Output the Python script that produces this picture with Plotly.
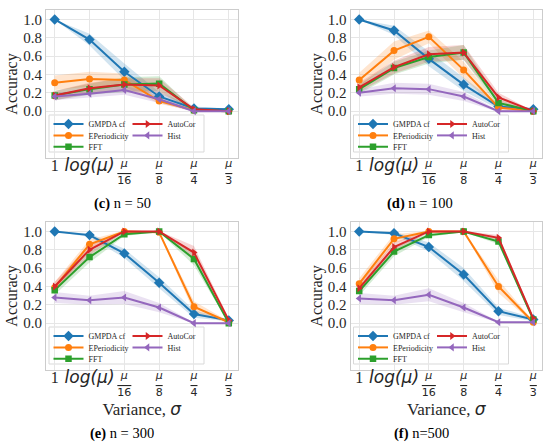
import plotly.graph_objects as go

# ---------------- data ----------------
x_pos = [0, 1, 2, 3, 4, 5]
tick_labels = ["1", "log(μ)", "μ/16", "μ/8", "μ/4", "μ/3"]
methods = ["GMPDA cf", "EPeriodicity", "FFT", "AutoCor", "Hist"]
panel_titles = ["<b>(c)</b> n = 50", "<b>(d)</b> n = 100", "<b>(e)</b> n = 300", "<b>(f)</b> n=500"]

# mean accuracy per panel (c, d, e, f)
gmpda_c = [1.00, 0.78, 0.43, 0.16, 0.03, 0.02]
eper_c = [0.31, 0.35, 0.34, 0.11, 0.01, 0.00]
fft_c = [0.17, 0.24, 0.29, 0.30, 0.01, 0.00]
autocor_c = [0.17, 0.25, 0.29, 0.28, 0.02, 0.00]
hist_c = [0.16, 0.19, 0.23, 0.13, 0.00, 0.00]

gmpda_d = [1.00, 0.88, 0.57, 0.29, 0.05, 0.02]
eper_d = [0.34, 0.66, 0.81, 0.45, 0.04, 0.00]
fft_d = [0.24, 0.47, 0.59, 0.64, 0.09, 0.00]
autocor_d = [0.26, 0.48, 0.62, 0.64, 0.15, 0.00]
hist_d = [0.20, 0.25, 0.24, 0.16, 0.00, 0.00]

gmpda_e = [1.00, 0.96, 0.76, 0.44, 0.10, 0.03]
eper_e = [0.39, 0.86, 1.00, 0.99, 0.18, 0.01]
fft_e = [0.36, 0.72, 0.97, 1.00, 0.70, 0.00]
autocor_e = [0.40, 0.80, 1.00, 1.00, 0.77, 0.03]
hist_e = [0.28, 0.25, 0.28, 0.17, 0.00, 0.00]

gmpda_f = [1.00, 0.98, 0.83, 0.53, 0.13, 0.04]
eper_f = [0.43, 0.92, 1.00, 1.00, 0.40, 0.01]
fft_f = [0.35, 0.78, 0.96, 1.00, 0.89, 0.04]
autocor_f = [0.38, 0.83, 1.00, 1.00, 0.93, 0.05]
hist_f = [0.27, 0.25, 0.31, 0.17, 0.01, 0.01]

# half-width of the shaded bands
gmpda_c_sd = [0.00, 0.065, 0.09, 0.05, 0.02, 0.01]
eper_c_sd = [0.08, 0.08, 0.07, 0.03, 0.01, 0.00]
fft_c_sd = [0.05, 0.06, 0.08, 0.08, 0.01, 0.00]
autocor_c_sd = [0.05, 0.06, 0.07, 0.08, 0.02, 0.00]
hist_c_sd = [0.04, 0.04, 0.05, 0.04, 0.01, 0.00]

gmpda_d_sd = [0.00, 0.05, 0.08, 0.07, 0.03, 0.01]
eper_d_sd = [0.08, 0.10, 0.07, 0.09, 0.03, 0.00]
fft_d_sd = [0.05, 0.07, 0.07, 0.08, 0.04, 0.00]
autocor_d_sd = [0.05, 0.07, 0.08, 0.08, 0.05, 0.00]
hist_d_sd = [0.04, 0.06, 0.06, 0.05, 0.01, 0.00]

gmpda_e_sd = [0.00, 0.02, 0.05, 0.06, 0.04, 0.01]
eper_e_sd = [0.06, 0.05, 0.01, 0.01, 0.06, 0.01]
fft_e_sd = [0.05, 0.06, 0.02, 0.005, 0.07, 0.005]
autocor_e_sd = [0.05, 0.06, 0.01, 0.005, 0.07, 0.02]
hist_e_sd = [0.06, 0.05, 0.07, 0.05, 0.005, 0.005]

gmpda_f_sd = [0.00, 0.02, 0.05, 0.07, 0.04, 0.02]
eper_f_sd = [0.06, 0.05, 0.005, 0.005, 0.07, 0.01]
fft_f_sd = [0.05, 0.05, 0.02, 0.005, 0.03, 0.02]
autocor_f_sd = [0.05, 0.05, 0.01, 0.005, 0.03, 0.02]
hist_f_sd = [0.06, 0.05, 0.07, 0.05, 0.005, 0.005]

panels = [
    [gmpda_c, eper_c, fft_c, autocor_c, hist_c],
    [gmpda_d, eper_d, fft_d, autocor_d, hist_d],
    [gmpda_e, eper_e, fft_e, autocor_e, hist_e],
    [gmpda_f, eper_f, fft_f, autocor_f, hist_f],
]
panels_sd = [
    [gmpda_c_sd, eper_c_sd, fft_c_sd, autocor_c_sd, hist_c_sd],
    [gmpda_d_sd, eper_d_sd, fft_d_sd, autocor_d_sd, hist_d_sd],
    [gmpda_e_sd, eper_e_sd, fft_e_sd, autocor_e_sd, hist_e_sd],
    [gmpda_f_sd, eper_f_sd, fft_f_sd, autocor_f_sd, hist_f_sd],
]

# ---------------- style ----------------
W, H = 550, 447
colors = ["#1f77b4", "#ff7f0e", "#2ca02c", "#d62728", "#9467bd"]
fills = ["rgba(31,119,180,0.2)", "rgba(255,127,14,0.2)", "rgba(44,160,44,0.2)",
         "rgba(214,39,40,0.2)", "rgba(148,103,189,0.2)"]
symbols = ["diamond", "circle", "square", "triangle-right", "triangle-left"]
msizes = [8, 7, 6.5, 7, 7]
legend_row = [0, 1, 2, 0, 1]  # which legend row each method sits in

SERIF = "Liberation Serif"
SANS = "DejaVu Sans"
INK = "#262626"
XR = [-0.25, 5.25]
YR = [-0.511, 1.103]

def frac(den):
    return ("<span style='font-family:%s;font-size:11px;baseline-shift:4px'><i>μ</i></span><br>"
            "<span style='font-family:%s;font-size:11px;text-decoration:overline'>%s</span>"
            % (SANS, SANS, den))

ticktext = [
    "<span style='font-family:%s;font-size:16px'>1</span>" % SERIF,
    "<span style='font-family:%s;font-size:17px'><i>log(μ)</i></span>" % SANS,
    frac("16"), frac("8"), frac("4"), frac("3"),
]

# panel boxes in pixels: (left, right, top, bottom)
boxes = [(46, 237.5, 10, 158), (350.5, 542, 10, 158),
         (46, 237.5, 222, 370), (350.5, 542, 222, 370)]
caption_pos = [(122, 203), (420, 203), (122, 433), (422, 433)]

fig = go.Figure()
layout = dict(
    width=W, height=H, margin=dict(l=0, r=0, t=0, b=0, autoexpand=False),
    paper_bgcolor="white", plot_bgcolor="white",
    showlegend=True, shapes=[], annotations=[],
)

legend_counter = 0
for p in range(4):
    xa = "x" if p == 0 else "x%d" % (p + 1)
    ya = "y" if p == 0 else "y%d" % (p + 1)
    l, r, t, b = boxes[p]
    # legends for this panel (3 rows)
    leg_names = []
    for row in range(3):
        legend_counter += 1
        name = "legend" if legend_counter == 1 else "legend%d" % legend_counter
        leg_names.append(name)
        row_y = b - 34 + row * 11.4
        layout[name] = dict(
            orientation="h", x=(l + 2.5) / W, xanchor="left",
            y=1 - row_y / H, yanchor="middle",
            bgcolor="rgba(0,0,0,0)", borderwidth=0,
            entrywidth=34, entrywidthmode="pixels",
            font=dict(family=SERIF, size=8, color=INK),
            itemclick=False, itemdoubleclick=False,
        )
    series = panels[p]
    sds = panels_sd[p]
    for k in range(5):
        upper = [m + s for m, s in zip(series[k], sds[k])]
        lower = [m - s for m, s in zip(series[k], sds[k])]
        fig.add_trace(go.Scatter(
            x=x_pos + x_pos[::-1], y=upper + lower[::-1],
            fill="toself", fillcolor=fills[k], line=dict(width=0),
            mode="lines", showlegend=False, hoverinfo="skip",
            xaxis=xa, yaxis=ya,
        ))
    for k in range(5):
        fig.add_trace(go.Scatter(
            x=x_pos, y=series[k], name=methods[k], mode="lines+markers",
            line=dict(color=colors[k], width=2),
            marker=dict(symbol=symbols[k], size=msizes[k], color=colors[k]),
            legend=leg_names[legend_row[k]],
            xaxis=xa, yaxis=ya,
        ))
    xkey = "xaxis" if p == 0 else "xaxis%d" % (p + 1)
    ykey = "yaxis" if p == 0 else "yaxis%d" % (p + 1)
    xaxis = dict(
        domain=[l / W, r / W], anchor=ya, range=XR,
        tickmode="array", tickvals=x_pos, ticktext=ticktext,
        tickfont=dict(family=SANS, size=10, color=INK),
        showgrid=True, gridcolor="#e6e6e6", gridwidth=1,
        zeroline=False, showline=True, mirror=True, linecolor="#cccccc", linewidth=1,
        ticks="",
    )
    if p >= 2:
        xaxis["title"] = dict(
            text="Variance, <span style='font-family:%s'><i>σ</i></span>" % SANS,
            font=dict(family=SERIF, size=17, color=INK), standoff=0)
    yaxis = dict(
        domain=[1 - b / H, 1 - t / H], anchor=xa, range=YR,
        tickmode="array", tickvals=[0, 0.2, 0.4, 0.6, 0.8, 1.0],
        ticktext=["0.0", "0.2", "0.4", "0.6", "0.8", "1.0"],
        tickfont=dict(family=SERIF, size=15, color=INK),
        showgrid=True, gridcolor="#e6e6e6", gridwidth=1,
        zeroline=False, showline=True, mirror=True, linecolor="#cccccc", linewidth=1,
        ticks="", title=dict(text="Accuracy", font=dict(family=SERIF, size=16, color=INK), standoff=1),
    )
    layout[xkey] = xaxis
    layout[ykey] = yaxis
    # legend frame (in axis units, derived from the axis ranges)
    xu = (XR[1] - XR[0]) / (r - l)
    yu = (YR[1] - YR[0]) / (b - t)
    layout["shapes"].append(dict(
        type="rect", xref=xa, yref=ya,
        x0=XR[0] + 3 * xu, x1=XR[0] + 158 * xu, y0=YR[0] + 6 * yu, y1=YR[0] + 43 * yu,
        fillcolor="white", line=dict(color="#d9d9d9", width=1), layer="below",
    ))
    cx, cy = caption_pos[p]
    layout["annotations"].append(dict(
        text=panel_titles[p], x=cx / W, y=1 - cy / H, xref="paper", yref="paper",
        xanchor="center", yanchor="middle", showarrow=False,
        font=dict(family=SERIF, size=14.5, color="black"),
    ))

fig.update_layout(**layout)
fig.write_html("out.html", config={"displayModeBar": False},
               post_script="document.body.style.margin='0px';")
